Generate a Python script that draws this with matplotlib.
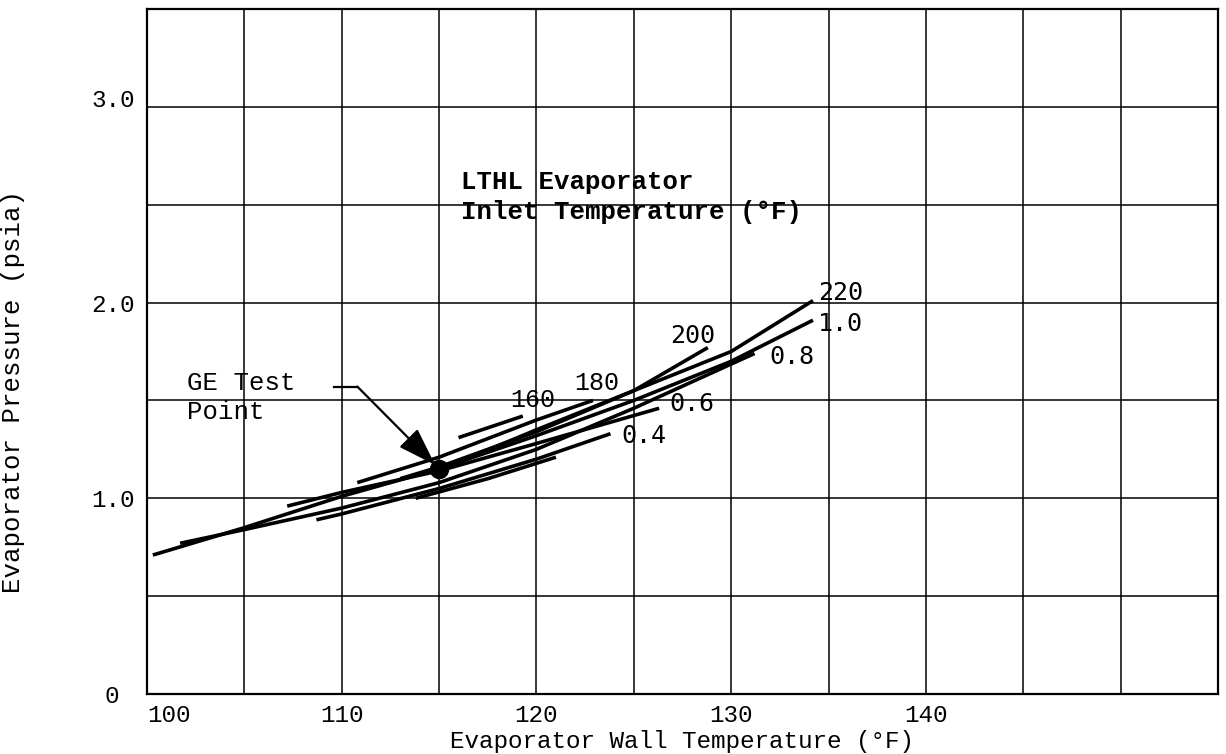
import numpy as np
import matplotlib
matplotlib.use('Agg')
import matplotlib.pyplot as plt
from matplotlib.transforms import ScaledTranslation

# ==========================================
# DATA
# ==========================================
# lines of constant flow ratio
T_10 = [100.3, 105, 110, 115, 120, 125, 130, 134.2]
P_10 = [0.71, 0.85, 1.01, 1.15, 1.32, 1.50, 1.70, 1.91]
T_08 = [101.7, 105, 110, 115, 120, 125, 131.2]
P_08 = [0.77, 0.84, 0.95, 1.08, 1.25, 1.46, 1.74]
T_06 = [107.2, 110, 115, 120, 126.3]
P_06 = [0.96, 1.03, 1.14, 1.28, 1.46]
T_04 = [108.7, 110, 115, 120, 123.8]
P_04 = [0.89, 0.92, 1.05, 1.20, 1.33]
T_04b = [113.8, 117.5, 121.0]
P_04b = [1.00, 1.10, 1.21]

# lines of constant LTHL inlet temperature
T_160 = [116.0, 119.3]
P_160 = [1.31, 1.42]
T_180 = [110.8, 115, 120, 122.9]
P_180 = [1.08, 1.21, 1.40, 1.50]
T_200 = [113.0, 115, 120, 125, 128.8]
P_200 = [1.10, 1.16, 1.34, 1.55, 1.77]
T_220 = [114.9, 120, 125, 130, 134.2]
P_220 = [1.14, 1.35, 1.55, 1.75, 2.01]

CURVES = [(T_10, P_10), (T_08, P_08), (T_06, P_06), (T_04, P_04), (T_04b, P_04b),
          (T_160, P_160), (T_180, P_180), (T_200, P_200), (T_220, P_220)]

# curve labels: text, T, P
LBL_TEXT = ['220', '1.0', '0.8', '200', '0.6', '0.4', '180', '160']
LBL_T = [135.6, 135.6, 133.1, 128.0, 128.0, 125.5, 123.1, 119.8]
LBL_P = [2.05, 1.89, 1.72, 1.83, 1.48, 1.32, 1.59, 1.50]
LBL_TYPED = [False, False, False, False, False, False, True, True]

GE_T, GE_P = 115.0, 1.15

X_TICKS = [100, 110, 120, 130, 140]
Y_TICKS = [0, 1, 2, 3]
Y_TICKLABELS = ['0', '1.0', '2.0', '3.0']

TYPE = 'Liberation Mono'
LETTER = 'DejaVu Sans Mono'
FS = 17.5

# ==========================================
# FIGURE
# ==========================================
fig = plt.figure(figsize=(12.26, 7.54), dpi=100)
ax = fig.add_axes([147 / 1226, 60 / 754, 1071 / 1226, 685 / 754])

ax.set_xlim(100, 155)
ax.set_ylim(0, 3.5)

for t, p in CURVES:
    ax.plot(t, p, color='black', linewidth=2.6, solid_capstyle='butt')

ax.plot([GE_T], [GE_P], marker='o', markersize=13, color='black')

for txt, t, p, typed in zip(LBL_TEXT, LBL_T, LBL_P, LBL_TYPED):
    ax.text(t, p, txt, fontsize=18, family=TYPE if typed else LETTER,
            ha='center', va='center')

# annotations
ax.text(116.1, 2.54, 'LTHL Evaporator\nInlet Temperature (°F)', fontsize=18.5,
        family=TYPE, fontweight='bold', ha='left', va='center', linespacing=1.3)
ax.text(102.05, 1.515, 'GE Test\nPoint', fontsize=18.5, family=TYPE,
        ha='left', va='center', linespacing=1.3)
ax.plot([109.6, 110.8], [1.571, 1.571], color='black', linewidth=1.6)
ax.annotate('', xy=(114.8, 1.17), xytext=(110.8, 1.571),
            arrowprops=dict(arrowstyle='-|>,head_length=1.2,head_width=0.4',
                            color='black', linewidth=1.6, mutation_scale=20,
                            shrinkA=0, shrinkB=0))

# grid like graph paper
ax.set_xticks(np.arange(100, 156, 5), minor=True)
ax.set_yticks(np.arange(0, 3.51, 0.5), minor=True)
ax.set_xticks(X_TICKS)
ax.set_yticks(Y_TICKS)
ax.set_yticklabels(Y_TICKLABELS)
ax.grid(which='both', color='black', linewidth=1.1)
ax.set_axisbelow(True)
ax.tick_params(which='both', length=0)
ax.tick_params(axis='x', pad=7)
ax.tick_params(axis='y', pad=9)
for lab in ax.get_xticklabels() + ax.get_yticklabels():
    lab.set_family(TYPE)
    lab.set_fontsize(FS)

xl = ax.get_xticklabels()
xl[0].set_horizontalalignment('left')
yl = ax.get_yticklabels()
yl[0].set_transform(yl[0].get_transform() + ScaledTranslation(-0.15, 0, fig.dpi_scale_trans))
yl[3].set_transform(yl[3].get_transform() + ScaledTranslation(0, 0.09, fig.dpi_scale_trans))

for s in ax.spines.values():
    s.set_linewidth(1.6)

ax.set_xlabel('Evaporator Wall Temperature (°F)', family=TYPE, fontsize=FS)
ax.xaxis.set_label_coords(0.5, -0.053)
ax.set_ylabel('Evaporator Pressure (psia)', family=TYPE, fontsize=18.5)
ax.yaxis.set_label_coords(-0.114, 0.442)

fig.savefig('out.png', dpi=100)
